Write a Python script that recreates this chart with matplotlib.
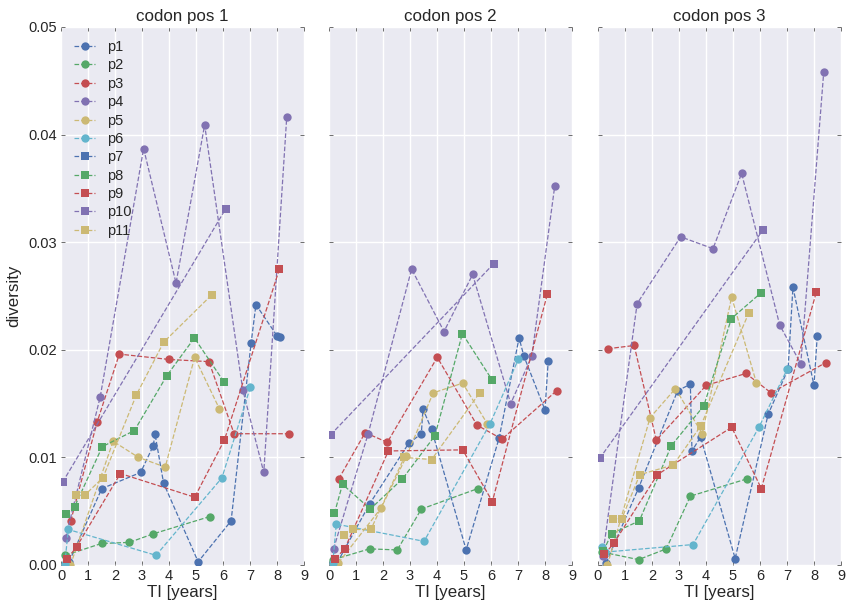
import matplotlib
matplotlib.use("Agg")
import matplotlib.pyplot as plt

plt.rcParams['font.family'] = ['Liberation Sans', 'DejaVu Sans']

patients = ['p1', 'p2', 'p3', 'p4', 'p5', 'p6', 'p7', 'p8', 'p9', 'p10', 'p11']
colors = ['#4C72B0', '#55A868', '#C44E52', '#8172B2', '#CCB974', '#64B5CD',
          '#4C72B0', '#55A868', '#C44E52', '#8172B2', '#CCB974']
markers = ['o', 'o', 'o', 'o', 'o', 'o', 's', 's', 's', 's', 's']
panel_titles = ['codon pos 1', 'codon pos 2', 'codon pos 3']

times = {
    'p1': [0.3, 1.51, 2.95, 3.42, 3.48, 3.8, 5.08, 6.3, 7.04, 7.22, 8.0, 8.12],
    'p2': [0.16, 1.5, 2.53, 3.42, 5.51],
    'p3': [0.36, 1.34, 2.16, 4.01, 5.48, 6.41, 8.43],
    'p4': [0.17, 1.45, 3.06, 4.26, 5.32, 6.73, 7.51, 8.36],
    'p5': [0.35, 1.93, 2.87, 3.86, 4.95, 5.87],
    'p6': [0.14, 0.27, 3.52, 5.96, 7.01],
    'p7': [],
    'p8': [0.2, 0.5, 1.53, 2.72, 3.92, 4.94, 6.04],
    'p9': [0.24, 0.58, 2.2, 4.95, 6.05, 8.09],
    'p10': [0.06, 6.1],
    'p11': [0.54, 0.88, 1.55, 2.79, 3.8, 5.58],
}

div_pos1 = {
    'p1': [0.0003, 0.0071, 0.0086, 0.0111, 0.0122, 0.0076, 0.0003, 0.0041, 0.0206, 0.0242, 0.0213, 0.0212],
    'p2': [0.0009, 0.0020, 0.0021, 0.0029, 0.0045],
    'p3': [0.0041, 0.0133, 0.0196, 0.0191, 0.0189, 0.0122, 0.0122],
    'p4': [0.0025, 0.0156, 0.0387, 0.0262, 0.0409, 0.0163, 0.0086, 0.0416],
    'p5': [0.0000, 0.0115, 0.0100, 0.0091, 0.0193, 0.0145],
    'p6': [0.0001, 0.0033, 0.0009, 0.0081, 0.0165],
    'p7': [],
    'p8': [0.0047, 0.0054, 0.0110, 0.0125, 0.0176, 0.0211, 0.0170],
    'p9': [0.0006, 0.0017, 0.0085, 0.0063, 0.0116, 0.0275],
    'p10': [0.0077, 0.0331],
    'p11': [0.0065, 0.0065, 0.0081, 0.0158, 0.0207, 0.0251],
}

div_pos2 = {
    'p1': [0.0002, 0.0057, 0.0113, 0.0122, 0.0145, 0.0126, 0.0014, 0.0118, 0.0211, 0.0194, 0.0144, 0.0190],
    'p2': [0.0005, 0.0015, 0.0014, 0.0052, 0.0071],
    'p3': [0.0080, 0.0123, 0.0114, 0.0193, 0.0130, 0.0117, 0.0162],
    'p4': [0.0015, 0.0122, 0.0275, 0.0217, 0.0270, 0.0150, 0.0194, 0.0352],
    'p5': [0.0002, 0.0053, 0.0101, 0.0160, 0.0169, 0.0131],
    'p6': [0.0002, 0.0038, 0.0022, 0.0131, 0.0191],
    'p7': [],
    'p8': [0.0048, 0.0075, 0.0052, 0.0080, 0.0120, 0.0215, 0.0172],
    'p9': [0.0006, 0.0015, 0.0106, 0.0107, 0.0059, 0.0252],
    'p10': [0.0121, 0.0280],
    'p11': [0.0028, 0.0033, 0.0033, 0.0100, 0.0098, 0.0160],
}

div_pos3 = {
    'p1': [0.0002, 0.0072, 0.0162, 0.0168, 0.0106, 0.0119, 0.0006, 0.0140, 0.0182, 0.0258, 0.0167, 0.0213],
    'p2': [0.0012, 0.0005, 0.0015, 0.0064, 0.0080],
    'p3': [0.0201, 0.0204, 0.0116, 0.0167, 0.0178, 0.0160, 0.0188],
    'p4': [0.0008, 0.0243, 0.0305, 0.0294, 0.0364, 0.0223, 0.0187, 0.0458],
    'p5': [0.0000, 0.0137, 0.0164, 0.0122, 0.0249, 0.0169],
    'p6': [0.0017, 0.0012, 0.0019, 0.0128, 0.0182],
    'p7': [],
    'p8': [0.0013, 0.0029, 0.0041, 0.0111, 0.0148, 0.0229, 0.0253],
    'p9': [0.0010, 0.0020, 0.0084, 0.0128, 0.0071, 0.0254],
    'p10': [0.0099, 0.0311],
    'p11': [0.0043, 0.0043, 0.0084, 0.0093, 0.0129, 0.0234],
}

x_ticks = [0, 1, 2, 3, 4, 5, 6, 7, 8, 9]
y_ticks = [0.0, 0.01, 0.02, 0.03, 0.04, 0.05]
y_ticklabels = ['0.00', '0.01', '0.02', '0.03', '0.04', '0.05']

fig = plt.figure(figsize=(8.49, 6.0), dpi=100)
lefts = [61, 329, 598]
width = 243
bottom_px, top_px = 565, 27
axes = []
for i, lp in enumerate(lefts):
    ax = fig.add_axes([lp / 849, 1 - bottom_px / 600, width / 849, (bottom_px - top_px) / 600])
    axes.append(ax)

for i, (ax, data) in enumerate(zip(axes, [div_pos1, div_pos2, div_pos3])):
    ax.set_facecolor('#EAEAF2')
    ax.grid(True, color='white', linewidth=1.0)
    ax.set_axisbelow(True)
    for s in ax.spines.values():
        s.set_visible(False)
    for p, c, m in zip(patients, colors, markers):
        ax.plot(times[p], data[p], linestyle='--', marker=m, color=c,
                markersize=6, linewidth=0.9, label=p, markeredgewidth=0)
    ax.set_xlim(0, 9)
    ax.set_ylim(0, 0.05)
    ax.set_xticks(x_ticks)
    ax.set_yticks(y_ticks)
    ax.tick_params(direction='in', length=3, width=0.6, color='#555555',
                   top=True, right=True, labelsize=10.5, pad=3, labelcolor='#262626')
    ax.set_title(panel_titles[i], fontsize=12.2, color='#262626', pad=4)
    ax.set_xlabel('TI [years]', fontsize=12.2, color='#262626', labelpad=1)
    if i == 0:
        ax.set_yticklabels(y_ticklabels)
        ax.set_ylabel('diversity', fontsize=12.2, color='#262626', labelpad=5)
        ax.legend(loc='upper left', frameon=False, fontsize=10.5, numpoints=1,
                  handlelength=1.45, labelspacing=0.3, borderaxespad=0.5,
                  labelcolor='#262626')
    else:
        ax.set_yticklabels([])

fig.savefig('out.png', dpi=100)
